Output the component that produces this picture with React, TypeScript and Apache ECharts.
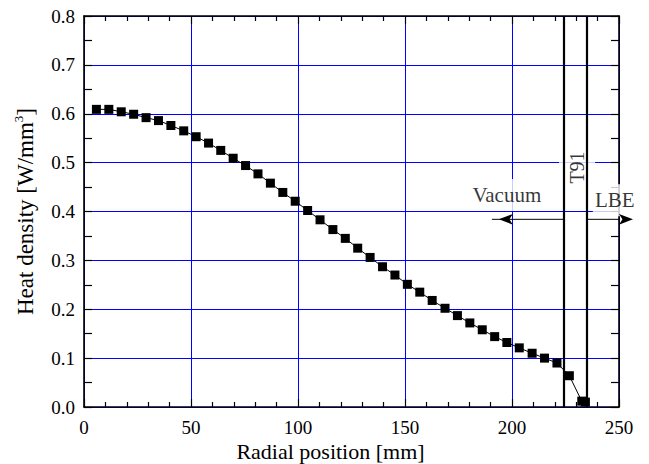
import React, { useEffect, useRef } from "react";
import * as echarts from "echarts";

// Data
const radialPosition = [5.8, 11.6, 17.4, 23.2, 29.0, 34.8, 40.6, 46.6, 52.4, 58.2, 63.9, 69.7, 75.5, 81.3, 87.1, 92.9, 98.7, 104.5, 110.3, 116.3, 122.1, 127.9, 133.7, 139.5, 145.3, 151.1, 156.9, 162.7, 168.7, 174.5, 180.3, 186.1, 191.9, 197.6, 203.4, 209.4, 215.2, 221.0, 226.8, 232.6, 234.3];
const heatDensity = [0.609, 0.609, 0.604, 0.599, 0.592, 0.586, 0.576, 0.565, 0.553, 0.540, 0.525, 0.509, 0.494, 0.477, 0.458, 0.439, 0.421, 0.402, 0.383, 0.363, 0.345, 0.325, 0.306, 0.287, 0.270, 0.251, 0.235, 0.218, 0.202, 0.187, 0.172, 0.158, 0.144, 0.132, 0.121, 0.110, 0.100, 0.090, 0.064, 0.012, 0.010];

// Region boundaries (mm)
const boundaries = [224, 235];
// Arrows: [startX, endX, y]
const vacuumArrow = [224, 190.6, 0.384];
const lbeArrow = [235, 259.8, 0.384];
// Annotation texts and their anchor positions
const annotationTexts = ["Vacuum", "LBE", "T91"];
const annotationX = [197.6, 248, 230.4];
const annotationY = [0.434, 0.423, 0.49];

const FONT = '"Liberation Serif", "Times New Roman", serif';

export default function App() {
  const ref = useRef<HTMLDivElement>(null);
  useEffect(() => {
    if (!ref.current) return;
    const chart = echarts.init(ref.current, null, { renderer: "svg" });
    const axisLine = { show: true, onZero: false, lineStyle: { color: "#000", width: 1.6 } };
    const xCommon = {
      type: "value",
      min: 0,
      max: 250,
      interval: 50,
      axisLine,
      axisTick: { show: true, inside: true, length: 8, lineStyle: { color: "#000", width: 1.2 } },
      minorTick: { show: true, splitNumber: 5, length: 5, lineStyle: { color: "#000", width: 1.2 } },
    };
    const yCommon = {
      type: "value",
      min: 0,
      max: 0.8,
      interval: 0.1,
      axisLine,
      axisTick: { show: true, inside: true, length: 8, lineStyle: { color: "#000", width: 1.2 } },
      minorTick: { show: true, splitNumber: 2, length: 8, lineStyle: { color: "#000", width: 1.2 } },
    };
    const labelStyles = [
      { fontSize: 21, padding: [6, 4], rotate: 0 },
      { fontSize: 21, padding: [6, 2], rotate: 0 },
      { fontSize: 20, padding: [8, 4], rotate: 90 },
    ];
    const arrowSeries = (arr: number[], dir: number) => ({
      type: "line",
      z: 5,
      clip: false,
      silent: true,
      data: [
        { value: [arr[0], arr[2]], symbol: "none" },
        {
          value: [arr[1], arr[2]],
          symbol: "arrow",
          symbolSize: [8, 14],
          symbolRotate: dir > 0 ? -90 : 90,
          symbolOffset: [dir > 0 ? -7 : 7, 0],
        },
      ],
      itemStyle: { color: "#000" },
      lineStyle: { color: "#000", width: 1 },
    });
    const option = {
      animation: false,
      grid: {
        left: 84,
        right: 30,
        top: 16,
        bottom: 57,
        containLabel: false,
        outerBoundsMode: "none",
      },
      xAxis: [
        {
          ...xCommon,
          position: "bottom",
          name: "Radial position [mm]",
          nameLocation: "middle",
          nameGap: 34,
          nameMoveOverlap: false,
          nameTextStyle: {
            fontFamily: FONT,
            fontSize: 22,
            lineHeight: 20,
            color: "#000",
            padding: [0, 42, 0, 0],
          },
          axisLabel: { show: true, fontFamily: FONT, fontSize: 19, lineHeight: 19, color: "#000", margin: 11 },
          splitLine: { show: true, lineStyle: { color: "#0000ff", width: 1 } },
        },
        {
          ...xCommon,
          position: "top",
          axisLabel: { show: false },
          splitLine: { show: false },
        },
      ],
      yAxis: [
        {
          ...yCommon,
          position: "left",
          name: "{a|Heat density [W/mm}{s|3}{a|]}",
          nameLocation: "middle",
          nameGap: 46,
          nameRotate: 90,
          nameTextStyle: {
            fontFamily: FONT,
            fontSize: 23,
            color: "#000",
            rich: {
              a: { fontFamily: FONT, fontSize: 23, color: "#000", lineHeight: 26 },
              s: { fontFamily: FONT, fontSize: 13, color: "#000", lineHeight: 13, verticalAlign: "top" },
            },
          },
          axisLabel: {
            show: true,
            fontFamily: FONT,
            fontSize: 19,
            color: "#000",
            margin: 9,
            formatter: (v: number) => v.toFixed(1),
          },
          splitLine: { show: true, lineStyle: { color: "#0000ff", width: 1 } },
        },
        {
          ...yCommon,
          position: "right",
          axisLabel: { show: false },
          splitLine: { show: false },
        },
      ],
      series: [
        {
          type: "scatter",
          z: 3,
          symbolSize: 0,
          silent: true,
          data: annotationTexts.map((t, i) => ({
            value: [annotationX[i], annotationY[i]],
            name: t,
            label: {
              show: true,
              position: "inside",
              formatter: t,
              fontFamily: FONT,
              fontSize: labelStyles[i].fontSize,
              color: "#000",
              backgroundColor: "#fff",
              padding: labelStyles[i].padding,
              rotate: labelStyles[i].rotate,
              lineHeight: 20,
            },
          })),
        },
        {
          type: "line",
          z: 4,
          data: radialPosition.map((x, i) => [x, heatDensity[i]]),
          symbol: "rect",
          symbolSize: 9,
          showSymbol: true,
          itemStyle: { color: "#000" },
          lineStyle: { color: "#000", width: 1 },
        },
        {
          type: "line",
          z: 5,
          data: [],
          clip: false,
          markLine: {
            silent: true,
            animation: false,
            symbol: "none",
            label: { show: false },
            lineStyle: { color: "#000", width: 2.2, type: "solid" },
            data: boundaries.map((b) => [{ coord: [b, 0] }, { coord: [b, 0.8] }]),
          },
        },
        arrowSeries(vacuumArrow, -1),
        arrowSeries(lbeArrow, 1),
      ],
    };
    chart.setOption(option as any);
    return () => chart.dispose();
  }, []);
  return (
    <div
      ref={ref}
      style={{ position: "fixed", left: 0, top: 0, width: 649, height: 464, background: "#fff" }}
    />
  );
}
